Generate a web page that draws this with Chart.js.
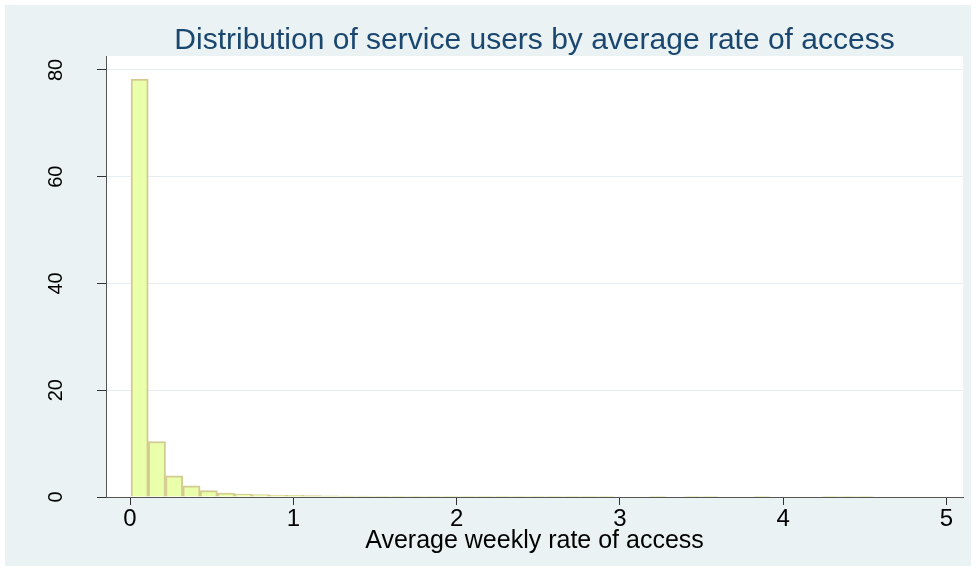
<!DOCTYPE html>
<html>
<head>
<meta charset="utf-8">
<script src="https://cdn.jsdelivr.net/npm/chart.js@4.4.1/dist/chart.umd.min.js"></script>
<style>
    html, body { margin: 0; padding: 0; background: #fff; }
    canvas { display: block; }
</style>
</head>
<body>
<canvas id="chart1" width="976" height="571"></canvas>
<script>
// histogram bins (weekly rate of access)
const binStart = 0.006;
const binWidth = 0.1058;

// percent of service users in each bin
const binPercent = [
    78.3, 10.4, 3.95, 2.1, 1.2, 0.75, 0.55, 0.45, 0.37, 0.3,
    0.25, 0.2, 0.17, 0.15, 0.14, 0.13, 0.12, 0.12, 0.12, 0.12,
    0.12, 0.12, 0.12, 0.12, 0.12, 0.12, 0.12, 0.12, 0, 0,
    0.12, 0, 0.12, 0.12, 0, 0, 0.12, 0, 0, 0,
    0.12, 0.12, 0.12,
];

const xTicks = [0, 1, 2, 3, 4, 5];
const yTicks = [0, 20, 40, 60, 80];

const titleText = "Distribution of service users by average rate of access";
const xTitle = "Average weekly rate of access";

const fontFamily = "'Liberation Sans', Arial, Helvetica, sans-serif";
Chart.defaults.font.family = fontFamily;

const bars = binPercent.map((v, i) => ({
    x: binStart + (i + 0.5) * binWidth,
    y: v > 0 ? v : null,
}));

// stata-ish frame: light outer region, white plot region
const background = {
    id: "background",
    beforeDraw(chart) {
        const { ctx, chartArea: a, width, height } = chart;
        ctx.save();
        ctx.fillStyle = "#ffffff";
        ctx.fillRect(0, 0, width, height);
        ctx.fillStyle = "#eaf2f3";
        ctx.fillRect(5, 5, width - 10, height - 10);
        ctx.fillStyle = "#ffffff";
        ctx.fillRect(a.left, a.top, a.right - a.left, a.bottom - a.top);
        ctx.restore();
    },
};

new Chart(document.getElementById("chart1"), {
    type: "bar",
    data: {
        datasets: [
            {
                data: bars,
                backgroundColor: "#eaffaa",
                borderColor: "#d3cb92",
                borderWidth: 2,
                barPercentage: 1,
                categoryPercentage: 1,
            },
        ],
    },
    options: {
        responsive: false,
        animation: false,
        layout: { padding: { left: 0, right: 13, top: 0, bottom: 0 } },
        plugins: {
            legend: { display: false },
            tooltip: { enabled: false },
            title: {
                display: true,
                text: titleText,
                fullSize: false,
                color: "#1a476f",
                font: { size: 30, weight: "normal", lineHeight: 1 },
                padding: { top: 26, bottom: 0 },
            },
        },
        scales: {
            x: {
                type: "linear",
                min: -0.147,
                max: 5.101,
                offset: false,
                afterBuildTicks: (s) => {
                    s.ticks = xTicks.map((value) => ({ value }));
                },
                afterFit: (s) => {
                    s.height = 74;
                },
                grid: {
                    drawOnChartArea: false,
                    offset: false,
                    tickLength: 8,
                    tickColor: "#333",
                },
                border: { color: "#555", width: 1 },
                ticks: {
                    color: "#000",
                    padding: 0,
                    maxRotation: 0,
                    font: { size: 24 },
                },
                title: {
                    display: true,
                    text: xTitle,
                    color: "#000",
                    font: { size: 25 },
                    padding: { top: 0, bottom: 15 },
                },
            },
            y: {
                min: 0,
                max: 82.6,
                afterBuildTicks: (s) => {
                    s.ticks = yTicks.map((value) => ({ value }));
                },
                afterFit: (s) => {
                    s.width = 106;
                },
                grid: {
                    color: "#e6eef1",
                    tickLength: 9,
                    tickColor: "#333",
                },
                border: { color: "#555", width: 1 },
                ticks: {
                    color: "#000",
                    minRotation: 90,
                    maxRotation: 90,
                    crossAlign: "center",
                    padding: 29,
                    font: { size: 20 },
                },
            },
        },
    },
    plugins: [background],
});
</script>
</body>
</html>
